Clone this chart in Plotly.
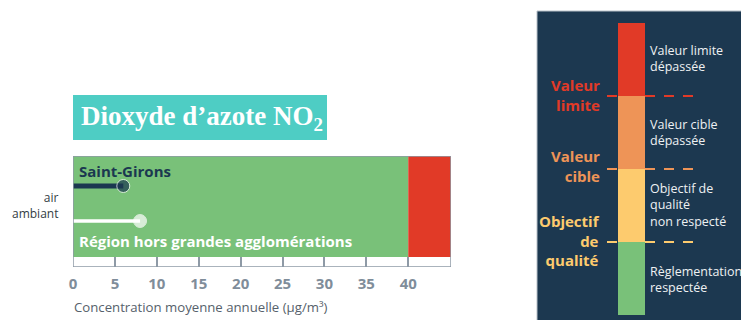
import plotly.graph_objects as go

# --- data -------------------------------------------------------------
sites = ["Saint-Girons", "Région hors grandes agglomérations"]
no2_values = [6, 8]                      # µg/m³, annual mean
limit_value = 40                         # valeur limite NO2 (µg/m³)
axis_max = 45.1
tick_values = [0, 5, 10, 15, 20, 25, 30, 35, 40]

legend_levels = ["Règlementation respectée", "Objectif de qualité non respecté",
                 "Valeur cible dépassée", "Valeur limite dépassée"]
legend_colors = ["#79C179", "#FDCB6E", "#EE9457", "#E13A27"]
threshold_names = ["Objectif<br>de<br>qualité", "Valeur<br>cible", "Valeur<br>limite"]
threshold_colors = ["#FDCB6E", "#EE9457", "#E13A27"]

W, H = 741, 320
FONT = "Open Sans"
NAVY = "#1B3850"
GREEN = "#79C179"
RED = "#E13A27"


def px(x):
    return x / W


def py(y):
    return 1 - y / H


fig = go.Figure()

# --- main chart: concentrations --------------------------------------
row_y = [186, 221]
line_colors = [NAVY, "#FFFFFF"]
line_widths = [5, 3.5]
for name, val, yy, col, lw in zip(sites, no2_values, row_y, line_colors, line_widths):
    fig.add_trace(go.Scatter(
        x=[0, val], y=[yy, yy], mode="lines+markers",
        line=dict(color=col, width=lw),
        marker=dict(size=[0, 13], color=col),
        name=name, showlegend=False, hoverinfo="x+name",
        xaxis="x", yaxis="y",
    ))

# --- legend scale: stacked bar ---------------------------------------
for lvl, col in zip(legend_levels, legend_colors):
    fig.add_trace(go.Bar(
        x=[0], y=[1], width=1, marker=dict(color=col, line=dict(width=0)),
        name=lvl, showlegend=False, hoverinfo="name",
        xaxis="x2", yaxis="y2",
    ))

shapes = []
annotations = []

# dark legend panel
shapes.append(dict(type="rect", xref="paper", yref="paper",
                   x0=px(537), x1=px(745), y0=py(330), y1=py(11),
                   fillcolor="#1C3850", line=dict(color="#B8C0C8", width=1),
                   layer="below"))

# dashed threshold lines across the scale
for i, col in enumerate(threshold_colors):
    shapes.append(dict(type="line", xref="paper", yref="y2",
                       x0=px(607), x1=px(695), y0=i + 1, y1=i + 1,
                       line=dict(color=col, width=2, dash="10px,9px"),
                       layer="below"))

# green (compliant) and red (over limit) zones
shapes.append(dict(type="rect", xref="x", yref="y", x0=0, x1=limit_value,
                   y0=156, y1=257, fillcolor=GREEN, line=dict(width=0),
                   layer="below"))
shapes.append(dict(type="rect", xref="x", yref="y", x0=limit_value, x1=axis_max,
                   y0=156, y1=257, fillcolor=RED, line=dict(width=0),
                   layer="below"))
# frame
shapes.append(dict(type="rect", xref="x", yref="y", x0=0, x1=axis_max,
                   y0=156, y1=267, fillcolor="rgba(0,0,0,0)",
                   line=dict(color="#8E9AA6", width=1.5)))

# title box
shapes.append(dict(type="rect", xref="paper", yref="paper",
                   x0=px(73), x1=px(327), y0=py(140), y1=py(95),
                   fillcolor="#4ECDC4", line=dict(width=0), layer="below"))
annotations.append(dict(
    xref="paper", yref="paper", x=px(79), y=py(118), xanchor="left", yanchor="middle",
    text="<b>Dioxyde d’azote NO<sub>2</sub></b>", showarrow=False,
    font=dict(family="Liberation Serif", size=27, color="#FFFFFF")))

# site labels
annotations.append(dict(
    xref="paper", yref="paper", x=px(77), y=py(171), xanchor="left", yanchor="middle",
    text="<b>" + sites[0] + "</b>", showarrow=False,
    font=dict(family=FONT, size=15, color=NAVY)))
annotations.append(dict(
    xref="paper", yref="paper", x=px(77), y=py(241), xanchor="left", yanchor="middle",
    text="<b>" + sites[1] + "</b>", showarrow=False,
    font=dict(family=FONT, size=15, color="#FFFFFF")))

# row label
annotations.append(dict(
    xref="paper", yref="paper", x=px(61), y=py(205), xanchor="right", yanchor="middle",
    text="air<br>ambiant", showarrow=False, align="right",
    font=dict(family=FONT, size=12, color="#333C44")))

# axis title
annotations.append(dict(
    xref="paper", yref="paper", x=px(72), y=py(307), xanchor="left", yanchor="middle",
    text="Concentration moyenne annuelle (µg/m³)", showarrow=False,
    font=dict(family=FONT, size=13.2, color="#56616B")))

# legend: threshold names (left) and level descriptions (right)
thr_centers = [240, 166, 95]
for name, col, yc in zip(threshold_names, threshold_colors, thr_centers):
    annotations.append(dict(
        xref="paper", yref="paper", x=px(602), y=py(yc), xanchor="right",
        yanchor="middle", align="right", text="<b>" + name + "</b>",
        showarrow=False, font=dict(family=FONT, size=15, color=col)))

level_text = ["Règlementation<br>respectée", "Objectif de<br>qualité<br>non respecté",
              "Valeur cible<br>dépassée", "Valeur limite<br>dépassée"]
lvl_centers = [279, 205, 132, 59]
for txt, yc in zip(level_text, lvl_centers):
    annotations.append(dict(
        xref="paper", yref="paper", x=px(648), y=py(yc), xanchor="left",
        yanchor="middle", align="left", text=txt, showarrow=False,
        font=dict(family=FONT, size=12.5, color="#EEF1F3")))

fig.update_layout(
    width=W, height=H,
    margin=dict(l=0, r=0, t=0, b=0, autoexpand=False),
    paper_bgcolor="#FFFFFF", plot_bgcolor="rgba(0,0,0,0)",
    barmode="stack", bargap=0,
    shapes=shapes, annotations=annotations,
    xaxis=dict(domain=[px(73), px(451)], range=[0, axis_max],
               tickvals=tick_values, ticktext=["<b>%d</b>" % v for v in tick_values],
               ticks="inside", ticklen=10, tickwidth=1.5, tickcolor="#8E9AA6",
               tickfont=dict(family=FONT, size=15, color="#7F8D9A"),
               ticklabelstandoff=6,
               showgrid=False, zeroline=False, showline=False, fixedrange=True,
               anchor="y"),
    yaxis=dict(domain=[py(267), py(156)], range=[267, 156],
               showgrid=False, zeroline=False, showticklabels=False,
               showline=False, fixedrange=True, anchor="x"),
    xaxis2=dict(domain=[px(618), px(645)], range=[-0.5, 0.5], visible=False,
                fixedrange=True, anchor="y2"),
    yaxis2=dict(domain=[py(315), py(23)], range=[0, 4], visible=False,
                fixedrange=True, anchor="x2"),
)

fig.write_html("out.html")
